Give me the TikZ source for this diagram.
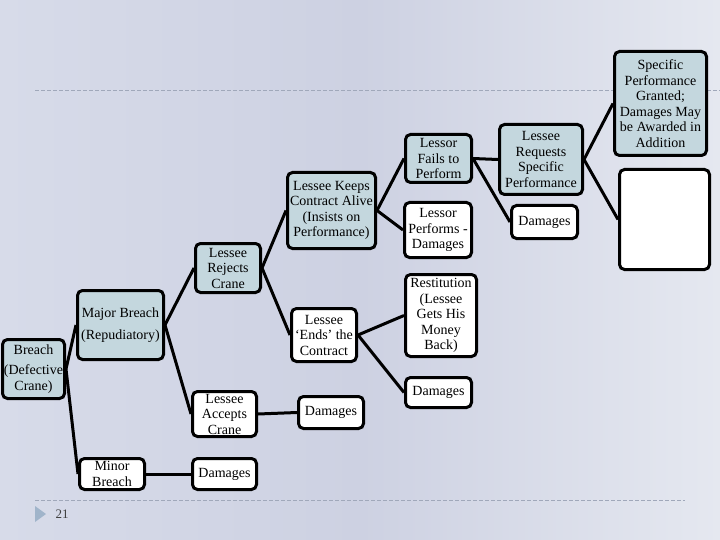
\documentclass[tikz,border=0pt]{standalone}
\usepackage{fontspec}
\setmainfont{Liberation Serif}
\definecolor{bgL}{RGB}{215,219,233}
\definecolor{bgM}{RGB}{205,209,226}
\definecolor{bgR}{RGB}{229,232,240}
\definecolor{teal}{RGB}{196,215,222}
\definecolor{dashc}{RGB}{160,168,186}
\definecolor{tri}{RGB}{160,180,202}
\definecolor{numc}{RGB}{64,64,64}
\tikzset{
  box/.style={draw=black, line width=3pt, rounded corners=5pt, inner sep=0pt, align=center,
    font=\rmfamily\fontsize{14}{15.5}\selectfont},
  tbox/.style={box, fill=teal},
  wbox/.style={box, fill=white},
  conn/.style={line width=3pt, black},
  sep/.style={dashc, line width=0.8pt, dash pattern=on 4pt off 2pt}
}
\begin{document}
\begin{tikzpicture}[x=1pt,y=-1pt]
\useasboundingbox (0,0) rectangle (720,540);
\shade[left color=bgL, right color=bgR, middle color=bgM] (0,0) rectangle (720,540);
\coordinate (d1a) at (35,90);
\coordinate (d1b) at (720,90);
\coordinate (d2a) at (35,500);
\coordinate (d2b) at (685,500);
\draw[sep] (d1a) -- (d1b);
\draw[sep] (d2a) -- (d2b);
\fill[tri] (35,506) -- (46,514) -- (35,522) -- cycle;
\node[font=\rmfamily\fontsize{13}{15}\selectfont, text=numc] (pg) at (62,514) {21};

\node[tbox, minimum width=62, minimum height=59] (breach) at (33.5,369) {Breach\\[5pt](Defective\\Crane)};
\node[tbox, minimum width=86, minimum height=69] (major) at (120.5,325) {Major Breach\\[6pt](Repudiatory)};
\node[tbox, minimum width=65, minimum height=49] (rejects) at (228,268) {Lessee\\Rejects\\Crane};
\node[wbox, minimum width=64, minimum height=45] (accepts) at (224.5,414) {Lessee\\Accepts\\Crane};
\node[wbox, minimum width=65, minimum height=31] (minor) at (112,474) {Minor\\Breach};
\node[wbox, minimum width=64, minimum height=31] (dmga) at (224.5,474) {Damages};
\node[tbox, minimum width=88, minimum height=76] (keeps) at (331.5,210.5) {Lessee Keeps\\Contract Alive\\(Insists on\\Performance)};
\node[wbox, minimum width=65, minimum height=53] (ends) at (324,335) {Lessee\\‘Ends’ the\\Contract};
\node[wbox, minimum width=65, minimum height=32] (dmgb) at (331,412.5) {Damages};
\node[tbox, minimum width=66, minimum height=48] (fails) at (438.5,158.5) {Lessor\\Fails to\\Perform};
\node[wbox, minimum width=67, minimum height=55] (performs) at (438,230) {Lessor\\Performs -\\Damages};
\node[wbox, minimum width=71, minimum height=82] (restit) at (441,315.5) {Restitution\\(Lessee\\Gets His\\Money\\Back)};
\node[wbox, minimum width=66, minimum height=30] (dmgc) at (438.5,392.5) {Damages};
\node[tbox, minimum width=83, minimum height=70] (requests) at (541,159.5) {Lessee\\Requests\\Specific\\Performance};
\node[wbox, minimum width=66, minimum height=33] (dmgd) at (544.5,222) {Damages};
\node[tbox, minimum width=92, minimum height=104] (granted) at (660.5,103.5) {Specific\\Performance\\Granted;\\Damages May\\be Awarded in\\Addition};
\node[wbox, minimum width=90, minimum height=100] (empty) at (664.5,219.5) {};

\draw[conn] (breach.east) -- (major.west);
\draw[conn] (breach.east) -- (minor.west);
\draw[conn] (major.east) -- (rejects.west);
\draw[conn] (major.east) -- (accepts.west);
\draw[conn] (minor.east) -- (dmga.west);
\draw[conn] (accepts.east) -- (dmgb.west);
\draw[conn] (rejects.east) -- (keeps.west);
\draw[conn] (rejects.east) -- (ends.west);
\draw[conn] (keeps.east) -- (fails.west);
\draw[conn] (keeps.east) -- (performs.west);
\draw[conn] (ends.east) -- (restit.west);
\draw[conn] (ends.east) -- (dmgc.west);
\draw[conn] (fails.east) -- (requests.west);
\draw[conn] (fails.east) -- (dmgd.west);
\draw[conn] (requests.east) -- (granted.west);
\draw[conn] (requests.east) -- (empty.west);
\end{tikzpicture}
\end{document}
